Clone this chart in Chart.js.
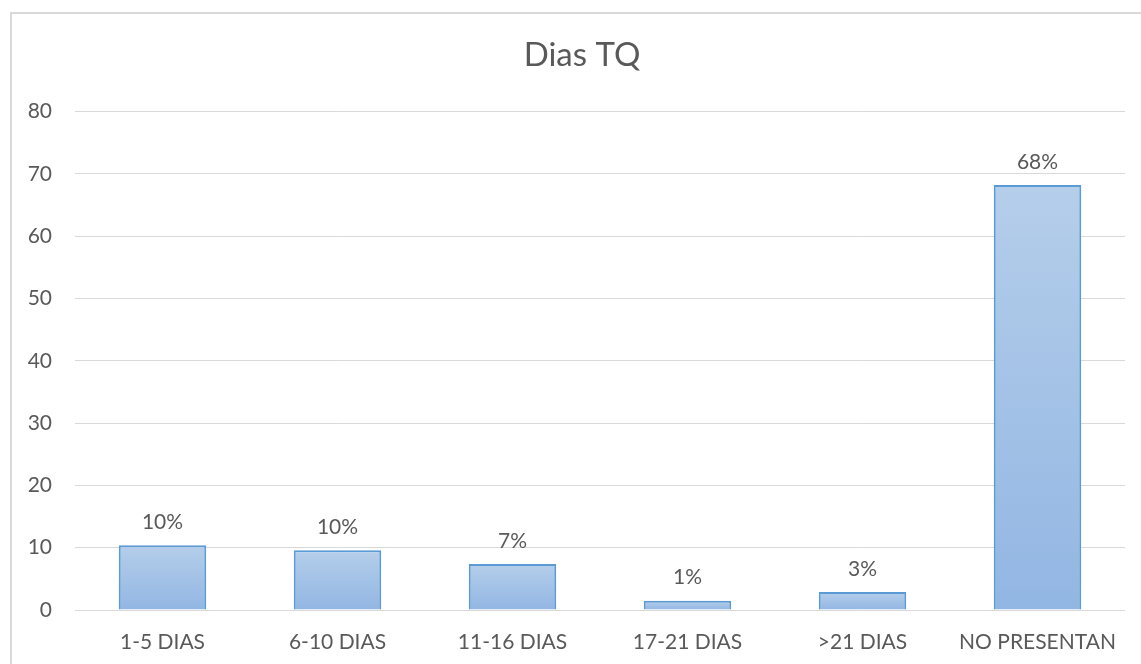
<!DOCTYPE html>
<html>
<head>
<meta charset="utf-8">
<script src="https://cdn.jsdelivr.net/npm/chart.js@4.4.1/dist/chart.umd.min.js"></script>
<style>
    html, body { margin: 0; padding: 0; background: #fff; overflow: hidden; }
    #frame {
        position: absolute; left: 10px; top: 12px; width: 1200px; height: 700px;
        border-left: 2px solid #d9d9d9; border-top: 2px solid #d9d9d9;
    }
    #wrap { position: absolute; left: 0; top: 0; width: 1141px; height: 664px; }
</style>
</head>
<body>
<div id="frame"></div>
<div id="wrap"><canvas id="diasChart" width="1141" height="664"></canvas></div>
<script>
// categorias y valores
var categorias = ['1-5 DIAS', '6-10 DIAS', '11-16 DIAS', '17-21 DIAS', '>21 DIAS', 'NO PRESENTAN'];
var valores = [10.4, 9.6, 7.4, 1.5, 2.9, 68.2];
var etiquetas = ['10%', '10%', '7%', '1%', '3%', '68%'];
var ticksY = [0, 10, 20, 30, 40, 50, 60, 70, 80];

var fontName = 'Lato, "Open Sans", sans-serif';
var gris = '#595959';

// etiquetas encima de cada barra
var etiquetasPlugin = {
    id: 'etiquetas',
    afterDatasetsDraw: function (chart) {
        var ctx = chart.ctx;
        var meta = chart.getDatasetMeta(0);
        ctx.save();
        ctx.font = '21px ' + fontName;
        ctx.fillStyle = gris;
        ctx.textAlign = 'center';
        ctx.textBaseline = 'middle';
        meta.data.forEach(function (bar, i) {
            ctx.fillText(etiquetas[i], bar.x, bar.y - 23);
        });
        ctx.restore();
    }
};

function rellenoBarra(context) {
    var chart = context.chart;
    if (!chart.chartArea || !chart.scales.y) {
        return '#a5c3e7';
    }
    var y = chart.scales.y;
    var top = y.getPixelForValue(valores[context.dataIndex]);
    var base = y.getPixelForValue(0);
    var g = chart.ctx.createLinearGradient(0, top, 0, base);
    g.addColorStop(0, '#b5ceea');
    g.addColorStop(1, '#92b6e3');
    return g;
}

var ctx = document.getElementById('diasChart').getContext('2d');
var chart = new Chart(ctx, {
    type: 'bar',
    data: {
        labels: categorias,
        datasets: [{
            data: valores,
            backgroundColor: rellenoBarra,
            borderColor: '#5b9bd5',
            borderWidth: 2,
            categoryPercentage: 1.0,
            barPercentage: 0.5
        }]
    },
    options: {
        responsive: false,
        animation: false,
        // padding asimetrico para centrar el titulo como en el original
        layout: { padding: { left: 24, right: 1, top: 0, bottom: 0 } },
        plugins: {
            legend: { display: false },
            tooltip: { enabled: false },
            title: {
                display: true,
                text: 'Dias TQ',
                color: gris,
                font: { family: fontName, size: 33, weight: 'normal', lineHeight: 1.2 },
                padding: { top: 36, bottom: 36 }
            }
        },
        scales: {
            x: {
                grid: { display: false, drawTicks: false },
                border: { display: false },
                ticks: {
                    color: gris,
                    font: { family: fontName, size: 21 },
                    padding: 20,
                    maxRotation: 0,
                    autoSkip: false
                },
                afterFit: function (scale) { scale.height = 54; }
            },
            y: {
                min: 0,
                max: 80,
                afterBuildTicks: function (scale) {
                    scale.ticks = ticksY.map(function (v) { return { value: v }; });
                },
                grid: { color: '#d9d9d9', lineWidth: 1, drawTicks: false },
                border: { display: false },
                ticks: {
                    color: gris,
                    font: { family: fontName, size: 21 },
                    padding: 23
                },
                afterFit: function (scale) { scale.width = 51; }
            },
            // eje vacio a la derecha solo para reservar margen
            margen: {
                type: 'linear',
                position: 'right',
                grid: { display: false, drawTicks: false },
                border: { display: false },
                ticks: { display: false },
                afterFit: function (scale) { scale.width = 15; }
            }
        }
    },
    plugins: [etiquetasPlugin]
});
</script>
</body>
</html>
